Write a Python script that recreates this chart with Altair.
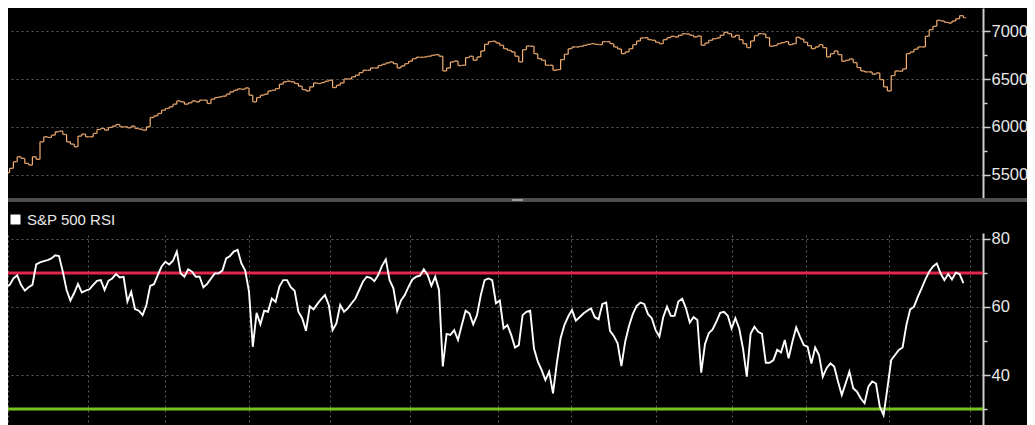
import altair as alt
import pandas as pd

# ---------------- data ----------------
close = [
    5517, 5524, 5569, 5638, 5690, 5673, 5621, 5604, 5690, 5663,
    5846, 5898, 5891, 5915, 5950, 5957, 5922, 5846, 5822, 5794,
    5905, 5926, 5898, 5898, 5933, 5974, 5985, 5967, 5995, 6009,
    6026, 6002, 6002, 5992, 6009, 5985, 5978, 5967, 6002, 6099,
    6116, 6141, 6175, 6193, 6210, 6238, 6272, 6262, 6238, 6252,
    6272, 6262, 6279, 6279, 6245, 6290, 6307, 6314, 6321, 6342,
    6366, 6383, 6397, 6393, 6407, 6331, 6262, 6307, 6331, 6342,
    6376, 6383, 6400, 6446, 6470, 6477, 6470, 6453, 6425, 6390,
    6376, 6418, 6459, 6453, 6463, 6477, 6487, 6411, 6435, 6459,
    6501, 6501, 6522, 6539, 6567, 6591, 6591, 6615, 6615, 6640,
    6653, 6667, 6678, 6660, 6615, 6636, 6660, 6685, 6712, 6726,
    6726, 6730, 6737, 6747, 6754, 6737, 6584, 6615, 6678, 6688,
    6640, 6643, 6723, 6737, 6695, 6730, 6792, 6861, 6889, 6893,
    6875, 6851, 6816, 6799, 6782, 6737, 6678, 6806, 6844, 6841,
    6764, 6712, 6695, 6643, 6643, 6591, 6598, 6702, 6757, 6816,
    6834, 6834, 6841, 6851, 6861, 6868, 6861, 6858, 6889, 6889,
    6868, 6834, 6813, 6764, 6782, 6816, 6858, 6896, 6927, 6931,
    6910, 6903, 6882, 6868, 6910, 6931, 6945, 6938, 6955, 6972,
    6969, 6955, 6938, 6948, 6851, 6875, 6903, 6920, 6927, 6955,
    6986, 6972, 6938, 6955, 6910, 6868, 6827, 6896, 6951, 6972,
    6969, 6931, 6841, 6848, 6868, 6879, 6889, 6858, 6868, 6934,
    6917, 6882, 6848, 6816, 6834, 6858, 6827, 6730, 6764, 6792,
    6754, 6685, 6695, 6709, 6671, 6619, 6584, 6574, 6574, 6550,
    6563, 6494, 6418, 6376, 6536, 6584, 6581, 6605, 6764, 6782,
    6810, 6834, 6834, 6945, 7014, 7049, 7111, 7104, 7090, 7083,
    7104, 7128, 7160, 7139,
]

rsi = [
    65.7, 66.0, 66.5, 68.4, 69.3, 66.5, 64.8, 65.8, 66.5, 72.5,
    73.1, 73.5, 73.8, 74.3, 75.2, 75.0, 70.4, 65.0, 61.9, 64.1,
    66.8, 64.3, 64.8, 65.2, 66.5, 67.7, 67.9, 65.0, 67.7, 68.4,
    69.7, 68.7, 68.9, 61.6, 64.5, 59.4, 58.9, 57.6, 60.6, 66.2,
    66.7, 69.4, 71.9, 73.3, 72.5, 73.6, 76.3, 69.9, 68.9, 71.1,
    70.4, 68.9, 68.9, 65.8, 66.8, 68.4, 69.9, 69.9, 70.7, 74.3,
    75.0, 76.3, 76.8, 72.8, 70.7, 64.5, 48.3, 58.3, 54.9, 58.9,
    58.6, 62.5, 61.5, 66.0, 67.9, 67.9, 65.8, 64.8, 58.6, 56.7,
    53.0, 60.2, 59.3, 60.9, 62.3, 63.5, 60.6, 53.2, 55.2, 60.6,
    58.6, 59.6, 61.1, 62.5, 65.0, 67.5, 68.9, 68.6, 67.6, 69.4,
    72.1, 74.0, 67.9, 65.5, 58.8, 61.9, 63.5, 66.0, 68.1, 68.9,
    69.2, 71.1, 69.4, 66.2, 68.9, 65.0, 42.5, 52.1, 51.8, 53.2,
    50.3, 54.7, 58.9, 58.1, 54.9, 57.6, 63.5, 67.9, 68.4, 67.9,
    61.1, 61.9, 53.7, 54.7, 51.8, 48.1, 48.8, 57.6, 58.6, 58.9,
    47.8, 43.9, 41.5, 38.5, 41.0, 34.6, 43.4, 50.8, 54.7, 57.2,
    59.1, 56.0, 57.0, 58.1, 58.9, 59.6, 57.0, 56.4, 60.9, 61.3,
    53.0, 51.5, 49.3, 42.6, 49.8, 54.4, 57.9, 60.3, 61.3, 60.9,
    57.9, 56.7, 53.2, 51.3, 57.0, 60.1, 57.4, 57.4, 61.6, 62.4,
    59.6, 55.4, 57.0, 56.2, 40.7, 49.1, 52.3, 53.4, 55.7, 58.3,
    58.6, 57.4, 53.7, 56.7, 53.7, 47.8, 39.5, 52.1, 54.2, 52.7,
    52.1, 43.6, 43.6, 44.4, 47.4, 46.6, 50.3, 44.9, 49.8, 54.0,
    51.3, 48.8, 48.3, 43.4, 48.1, 45.9, 39.5, 42.0, 43.4, 42.5,
    38.1, 34.1, 37.5, 41.0, 36.1, 35.1, 33.1, 31.7, 36.6, 38.1,
    37.5, 30.7, 28.2, 36.1, 44.4, 45.9, 47.4, 48.1, 54.7, 59.3,
    60.1, 63.0, 65.5, 68.1, 70.4, 71.9, 72.8, 69.9, 67.9, 69.7,
    68.1, 70.1, 69.7, 67.0,
]

# month boundaries (in trading-day index) used for the vertical grid
month_breaks = [1.6, 22.6, 42.9, 65.0, 86.3, 107.4, 130.5, 149.7, 172.1,
                192.1, 211.6, 233.4, 254.7]
price_ticks = [5500, 5750, 6000, 6250, 6500, 6750, 7000]
rsi_ticks = [30, 40, 50, 60, 70, 80]
overbought = [70]
oversold = [30]
series_name = "S&P 500 RSI"

# ---------------- table ----------------
n = len(close)
opens = [close[0]] + close[:-1]
df = pd.DataFrame({
    "day": list(range(n)),
    "open": opens,
    "close": close,
    "rsi": rsi,
})
df["lo"] = df[["open", "close"]].min(axis=1)
df["hi"] = df[["open", "close"]].max(axis=1)
df["series"] = series_name

# ---------------- styling ----------------
W, H = 975, 417
PAD_RIGHT = 44
ORANGE = "#f6b074"
GRID = "#5e5e5e"
AXIS_COL = "#cfcfcf"
LABEL_COL = "#e8e8e8"
FONT = "Liberation Sans"

x_scale = alt.Scale(domain=[1.579, 258.16], nice=False, zero=False)
price_scale = alt.Scale(domain=[5260.4, 7239.6], range=[190, 0], nice=False, zero=False)
rsi_scale = alt.Scale(domain=[25.3, 81.76], range=[417, 225], nice=False, zero=False)

x_axis = alt.Axis(values=month_breaks, grid=True, labels=False, ticks=False,
                  domain=False, title=None, gridColor=GRID, gridDash=[2, 3],
                  gridWidth=1)


def y_axis(values, major):
    test = f"datum.value % {major} === 0"
    return alt.Axis(
        orient="right", values=values, title=None, format="d",
        labelExpr=f"{test} ? datum.label : ''",
        grid=True, gridColor=GRID, gridDash=[2, 3], gridWidth=1,
        gridOpacity={"condition": {"test": test, "value": 1}, "value": 0},
        tickSize={"condition": {"test": test, "value": 7}, "value": 4},
        tickColor=AXIS_COL, tickWidth=1.5,
        domainColor=AXIS_COL, domainWidth=2,
        labelColor=LABEL_COL, labelFont=FONT, labelFontSize=16.5,
        labelPadding=1, labelOverlap=False, labelBound=False, labelFlush=False,
    )


price_axis = y_axis(price_ticks, 500)
rsi_axis = y_axis(rsi_ticks, 20)

base = alt.Chart(df)
X = alt.X("day:Q", scale=x_scale, axis=x_axis)

price_rule = base.mark_rule(color=ORANGE, strokeWidth=1.2, clip=True).encode(
    x=X, y=alt.Y("lo:Q", scale=price_scale, axis=price_axis), y2="hi:Q")
open_tick = base.mark_tick(color=ORANGE, orient="horizontal", size=3,
                           thickness=1.2, xOffset=-1.4, clip=True).encode(
    x=X, y=alt.Y("open:Q", scale=price_scale, axis=price_axis))
close_tick = base.mark_tick(color=ORANGE, orient="horizontal", size=3,
                            thickness=1.2, xOffset=1.4, clip=True).encode(
    x=X, y=alt.Y("close:Q", scale=price_scale, axis=price_axis))
price_layer = alt.layer(price_rule, open_tick, close_tick)

rule_hi = alt.Chart(pd.DataFrame({"level": overbought})).mark_rule(
    color="#e5264c", strokeWidth=3).encode(
    y=alt.Y("level:Q", scale=rsi_scale, axis=rsi_axis))
rule_lo = alt.Chart(pd.DataFrame({"level": oversold})).mark_rule(
    color="#78c41e", strokeWidth=3).encode(
    y=alt.Y("level:Q", scale=rsi_scale, axis=rsi_axis))
rsi_line = base.mark_line(strokeWidth=1.9, clip=True).encode(
    x=X,
    y=alt.Y("rsi:Q", scale=rsi_scale, axis=rsi_axis),
    color=alt.Color("series:N",
                    scale=alt.Scale(domain=[series_name], range=["#ffffff"]),
                    legend=alt.Legend(orient="none", legendX=0, legendY=204,
                                      title=None, symbolType="square",
                                      symbolSize=100, symbolFillColor="#ffffff",
                                      symbolStrokeColor="#ffffff",
                                      symbolStrokeWidth=0, symbolOpacity=1,
                                      labelColor=LABEL_COL, labelFont=FONT,
                                      labelFontSize=15, labelOffset=4,
                                      padding=0)),
)
rsi_layer = alt.layer(rule_hi, rule_lo, rsi_line)

deco = pd.DataFrame({"k": [0]})
cover = alt.Chart(deco).mark_rect(color="#000000", clip=False).encode(
    x=alt.value(0), x2=alt.value(W), y=alt.value(194), y2=alt.value(225))
separator = alt.Chart(deco).mark_rect(color="#4f4f4f", clip=False).encode(
    x=alt.value(0), x2=alt.value(W + PAD_RIGHT), y=alt.value(190), y2=alt.value(194))
handle = alt.Chart(deco).mark_rect(color="#9a9a9a", clip=False).encode(
    x=alt.value(504), x2=alt.value(515), y=alt.value(191), y2=alt.value(193))

chart = alt.layer(price_layer, rsi_layer, cover, separator, handle).resolve_scale(
    y="independent"
).properties(
    width=W, height=H, background="#000000",
    padding={"left": 0, "top": 0, "right": PAD_RIGHT, "bottom": 0},
    autosize=alt.AutoSizeParams(type="none"),
).configure_view(strokeWidth=0)

chart.save("out.html", embed_options={"renderer": "svg", "actions": False})
